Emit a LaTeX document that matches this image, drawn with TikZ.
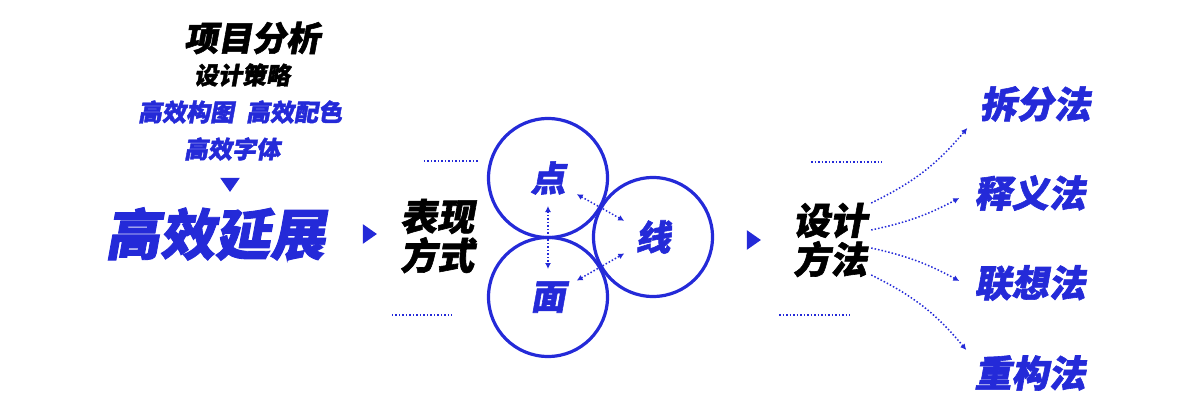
\documentclass[tikz,border=0pt]{standalone}
\usepackage{fontspec}
\newfontfamily\cjk{Noto Sans CJK SC}[FakeSlant=0.18, FakeBold=1.6]
\usetikzlibrary{shapes.geometric, arrows.meta}
\definecolor{dblue}{RGB}{36,42,216}
\tikzstyle{word} = [inner sep=0pt, align=center, font=\cjk\bfseries]
\tikzstyle{title} = [word, text=black, font=\cjk\bfseries\fontsize{34}{36}\selectfont]
\tikzstyle{subtitle} = [word, text=black, font=\cjk\bfseries\fontsize{24}{26}\selectfont]
\tikzstyle{tool} = [word, text=dblue, font=\cjk\bfseries\fontsize{24}{26}\selectfont]
\tikzstyle{headline} = [word, text=dblue, font=\cjk\bfseries\fontsize{55}{58}\selectfont]
\tikzstyle{pair} = [word, text=black, font=\cjk\bfseries\fontsize{37}{39}\selectfont]
\tikzstyle{method} = [word, text=dblue, font=\cjk\bfseries\fontsize{37}{39}\selectfont]
\tikzstyle{ring} = [circle, draw=dblue, line width=3.2pt, minimum size=119pt, inner sep=0pt, text=dblue, font=\cjk\bfseries\fontsize{35}{37}\selectfont]
\tikzstyle{pointer} = [isosceles triangle, isosceles triangle apex angle=70, fill=dblue, inner sep=0pt, minimum height=14pt, minimum width=18pt]
\tikzstyle{dots} = [draw=dblue, line width=1.5pt, dash pattern=on 1.5pt off 2pt]
\tikzstyle{dotarrow} = [dots, -{Latex[length=6pt, width=6pt]}]
\tikzstyle{dotboth} = [dots, {Latex[length=6pt, width=6pt]}-{Latex[length=6pt, width=6pt]}]

\begin{document}
\begin{tikzpicture}[x=1pt, y=1pt, node distance=37pt]
\useasboundingbox (0,0) rectangle (1200,408);

% left column
\node (proj) [title] at (252,370) {项目分析};
\node (strat) [subtitle, below of=proj, xshift=-10pt] {设计策略};
\node (tools) [tool, below of=strat, xshift=-2pt] {高效构图\hspace{12pt}高效配色};
\node (font) [tool, below of=tools, xshift=-8pt] {高效字体};
\node (down) [pointer, shape border rotate=-90, below of=font, xshift=-2pt, yshift=3pt] {};
\node (main) [headline, below of=down, xshift=-15pt, yshift=-14pt] {高效延展};

% middle: three circles
\node (arrow1) [pointer, right of=main, xshift=116pt] {};
\node (way) [pair, right of=arrow1, xshift=32pt, yshift=-2pt] {表现\\方式};
\node (dian) [ring] at (548,230) {\raisebox{-4pt}{点}};
\node (mian) [ring, below of=dian, node distance=119pt] {面};
\node (xian) [ring, right of=dian, xshift=68pt, yshift=-59pt] {线};

\draw [dotboth, shorten <=28pt, shorten >=28pt] (dian.center) -- (mian.center);
\draw [dotboth, shorten <=33pt, shorten >=33pt] (dian.center) -- (xian.center);
\draw [dotboth, shorten <=33pt, shorten >=33pt] (mian.center) -- (xian.center);

\coordinate (wt1) at ([xshift=-63pt, yshift=17pt]dian.west);
\coordinate (wt2) at ([xshift=-7pt, yshift=17pt]dian.west);
\coordinate (wb1) at ([xshift=-95pt, yshift=-18pt]mian.west);
\coordinate (wb2) at ([xshift=-35pt, yshift=-18pt]mian.west);
\draw [dots] (wt1) -- (wt2);
\draw [dots] (wb1) -- (wb2);

% right: design methods
\node (arrow2) [pointer, right of=xian, xshift=62pt, yshift=-3pt] {};
\node (design) [pair, right of=arrow2, xshift=41pt] {设计\\方法};
\coordinate (mt1) at (811,246);
\coordinate (mt2) at (882,246);
\coordinate (mb1) at (779,93);
\coordinate (mb2) at (850,93);
\draw [dots] (mt1) -- (mt2);
\draw [dots] (mb1) -- (mb2);

\node (chai) [method] at (1035,304) {拆分法};
\node (shi) [method, below of=chai, node distance=89pt, xshift=-5pt] {释义法};
\node (lian) [method, below of=shi, node distance=90pt] {联想法};
\node (chong) [method, below of=lian, node distance=90pt] {重构法};

\coordinate (s1) at ([xshift=4pt, yshift=37pt]design.east);
\coordinate (s2) at ([xshift=4pt, yshift=10pt]design.east);
\coordinate (s3) at ([xshift=4pt, yshift=-8pt]design.east);
\coordinate (s4) at ([xshift=4pt, yshift=-35pt]design.east);
\coordinate (e1) at ([xshift=-12pt, yshift=-24pt]chai.west);
\coordinate (e2) at ([xshift=-15pt, yshift=-5pt]shi.west);
\coordinate (e3) at ([xshift=-15pt, yshift=2pt]lian.west);
\coordinate (e4) at ([xshift=-8pt, yshift=23pt]chong.west);

\draw [dotarrow] (s1) to[bend right=12] (e1);
\draw [dotarrow] (s2) to[bend right=8] (e2);
\draw [dotarrow] (s3) to[bend left=8] (e3);
\draw [dotarrow] (s4) to[bend left=12] (e4);

\end{tikzpicture}
\end{document}
